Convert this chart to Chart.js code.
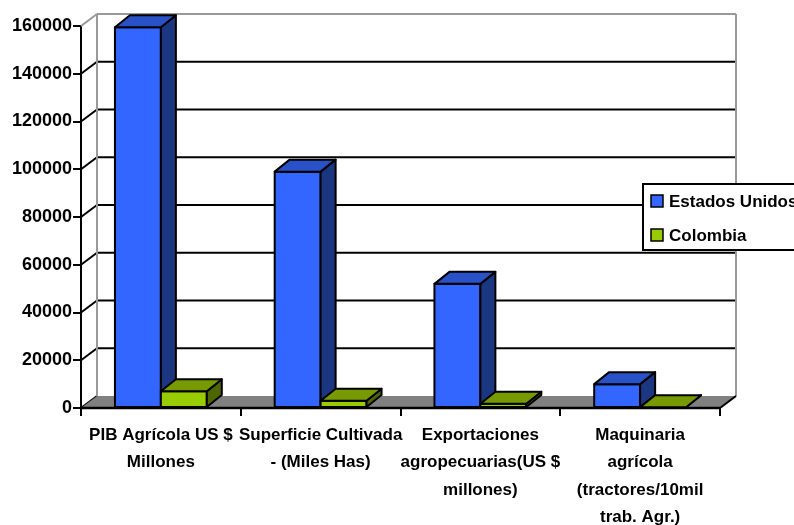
<!DOCTYPE html>
<html>
<head>
<meta charset="utf-8">
<script src="https://cdn.jsdelivr.net/npm/chart.js@4.4.1/dist/chart.umd.min.js"></script>
<style>
  html, body { margin: 0; padding: 0; background: #fff; }
  #wrap { width: 794px; height: 525px; }
</style>
</head>
<body>
<div id="wrap"><canvas id="chart" width="794" height="525"></canvas></div>
<script>
// chart data
const categories = [
    ['PIB Agrícola US $', 'Millones'],
    ['Superficie Cultivada', '- (Miles Has)'],
    ['Exportaciones', 'agropecuarias(US $', 'millones)'],
    ['Maquinaria', 'agrícola', '(tractores/10mil', 'trab. Agr.)']
];
const seriesNames = ['Estados Unidos', 'Colombia'];
const estadosUnidos = [159500, 99000, 52000, 10000];
const colombia = [7000, 3000, 1800, 300];
const yMin = 0, yMax = 160000, yStep = 20000;

// colours: front, top, side
const palette = [
    { front: '#3366ff', top: '#2a52c8', side: '#1c3782' },
    { front: '#99cc00', top: '#779a00', side: '#4d6600' }
];

const WALL_DX = 16, WALL_DY = -12;
const BAR_DX = 15, BAR_DY = -12;

function poly(ctx, pts, fill, stroke, lw) {
    ctx.beginPath();
    ctx.moveTo(pts[0][0], pts[0][1]);
    for (let i = 1; i < pts.length; i++) ctx.lineTo(pts[i][0], pts[i][1]);
    ctx.closePath();
    if (fill) { ctx.fillStyle = fill; ctx.fill(); }
    if (stroke) { ctx.strokeStyle = stroke; ctx.lineWidth = lw; ctx.stroke(); }
}

function line(ctx, x1, y1, x2, y2, color, lw) {
    ctx.beginPath();
    ctx.moveTo(x1, y1);
    ctx.lineTo(x2, y2);
    ctx.strokeStyle = color;
    ctx.lineWidth = lw;
    ctx.stroke();
}

// back wall, side wall and floor
const wallPlugin = {
    id: 'walls',
    beforeDatasetsDraw(chart) {
        const ctx = chart.ctx;
        const { left, right } = chart.chartArea;
        const y = chart.scales.y;
        const top = y.getPixelForValue(yMax);
        const bottom = y.getPixelForValue(yMin);
        ctx.save();
        // gridlines on the back wall + diagonals on the side
        for (let v = yMin; v < yMax; v += yStep) {
            const py = y.getPixelForValue(v);
            if (v > yMin) line(ctx, left + WALL_DX, py + WALL_DY, right + WALL_DX, py + WALL_DY, '#000', 2);
            line(ctx, left, py, left + WALL_DX, py + WALL_DY, '#000', 2);
        }
        // wall outline
        line(ctx, left, top, left + WALL_DX, top + WALL_DY, '#999', 2);
        line(ctx, left + WALL_DX, top + WALL_DY, right + WALL_DX, top + WALL_DY, '#999', 2);
        line(ctx, left + WALL_DX, top + WALL_DY, left + WALL_DX, bottom + WALL_DY, '#999', 2);
        line(ctx, right + WALL_DX, top + WALL_DY, right + WALL_DX, bottom + WALL_DY, '#999', 2);
        // floor
        poly(ctx, [[left, bottom], [right, bottom], [right + WALL_DX, bottom + WALL_DY], [left + WALL_DX, bottom + WALL_DY]], '#808080');
        line(ctx, right, bottom, right + WALL_DX, bottom + WALL_DY, '#000', 2);
        line(ctx, left, bottom, right, bottom, '#000', 2.5);
        ctx.restore();
    }
};

// draws each bar as a box, category by category
const bar3dPlugin = {
    id: 'bars3d',
    afterDatasetsDraw(chart) {
        const ctx = chart.ctx;
        ctx.save();
        ctx.lineJoin = 'round';
        categories.forEach((c, i) => {
            chart.data.datasets.forEach((ds, d) => {
                const el = chart.getDatasetMeta(d).data[i];
                const { x, y, base, width } = el.getProps(['x', 'y', 'base', 'width'], true);
                const l = x - width / 2, r = x + width / 2;
                const col = palette[d];
                poly(ctx, [[l, y], [r, y], [r, base], [l, base]], col.front, '#000', 2);
                poly(ctx, [[r, y], [r + BAR_DX, y + BAR_DY], [r + BAR_DX, base + BAR_DY], [r, base]], col.side, '#000', 2);
                poly(ctx, [[l, y], [l + BAR_DX, y + BAR_DY], [r + BAR_DX, y + BAR_DY], [r, y]], col.top, '#000', 2);
            });
        });
        ctx.restore();
    }
};

// boxed legend on the right, partly off the canvas like the original
const legendPlugin = {
    id: 'boxLegend',
    afterDraw(chart) {
        const ctx = chart.ctx;
        ctx.save();
        ctx.fillStyle = '#fff';
        ctx.fillRect(643, 184, 160, 66);
        ctx.strokeStyle = '#000';
        ctx.lineWidth = 2;
        ctx.strokeRect(643, 184, 160, 66);
        ctx.font = 'bold 17px "Liberation Sans", Arial, sans-serif';
        ctx.textBaseline = 'middle';
        seriesNames.forEach((name, i) => {
            const cy = 201 + i * 34;
            ctx.fillStyle = palette[i].front;
            ctx.fillRect(651, cy - 6, 12, 12);
            ctx.lineWidth = 1.5;
            ctx.strokeRect(651, cy - 6, 12, 12);
            ctx.fillStyle = '#000';
            ctx.fillText(name, 669, cy + 1);
        });
        ctx.restore();
    }
};

Chart.defaults.font.family = '"Liberation Sans", Arial, sans-serif';
Chart.defaults.font.weight = 'bold';
Chart.defaults.color = '#000';

new Chart(document.getElementById('chart'), {
    type: 'bar',
    data: {
        labels: categories,
        datasets: [
            { label: seriesNames[0], data: estadosUnidos, backgroundColor: 'rgba(0,0,0,0)', borderWidth: 0 },
            { label: seriesNames[1], data: colombia, backgroundColor: 'rgba(0,0,0,0)', borderWidth: 0 }
        ]
    },
    options: {
        responsive: false,
        animation: false,
        layout: { padding: { top: 26, right: 74, bottom: 0, left: 0 } },
        plugins: { legend: { display: false }, tooltip: { enabled: false } },
        datasets: { bar: { categoryPercentage: 0.575, barPercentage: 1 } },
        scales: {
            x: {
                afterFit: s => { s.height = 117; },
                grid: { offset: true, drawOnChartArea: false, color: '#000', lineWidth: 2, tickLength: 8 },
                border: { display: false },
                ticks: { padding: 6, maxRotation: 0, autoSkip: false, font: { size: 17, lineHeight: 1.6 } }
            },
            y: {
                min: yMin,
                max: yMax,
                afterFit: s => { s.width = 81; },
                grid: { drawOnChartArea: false, color: '#000', lineWidth: 2, tickLength: 8 },
                border: { color: '#000', width: 2 },
                ticks: { stepSize: yStep, padding: 1, font: { size: 18 }, callback: v => String(v) }
            }
        }
    },
    plugins: [wallPlugin, bar3dPlugin, legendPlugin]
});
</script>
</body>
</html>
